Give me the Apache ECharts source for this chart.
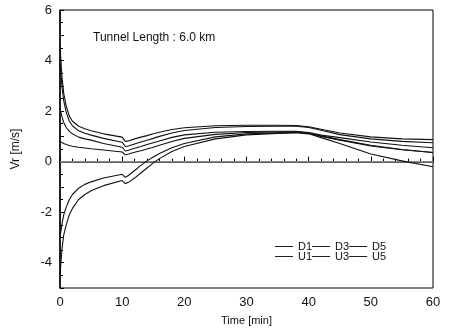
<!DOCTYPE html>
<html>
<head>
<meta charset="utf-8">
<script src="https://cdn.jsdelivr.net/npm/echarts@6/dist/echarts.min.js"></script>
<style>
  html, body { margin: 0; padding: 0; background: #fff; }
  #chart { width: 449px; height: 334px; }
</style>
</head>
<body>
<div id="chart"></div>
<script>
// time samples [min]
const timeMin = [0, 0.3, 0.6, 1, 1.5, 2, 3, 4, 5, 7, 10, 10.5, 11, 12, 13, 14, 15, 16, 18, 20, 25, 30, 35, 38, 40, 42, 45, 50, 55, 60];

// Vr [m/s]
const vrD1 = [4.6, 3.4, 2.7, 2.2, 1.8, 1.6, 1.4, 1.3, 1.22, 1.1, 0.97, 0.8, 0.82, 0.9, 0.97, 1.03, 1.1, 1.16, 1.27, 1.34, 1.42, 1.44, 1.44, 1.43, 1.38, 1.28, 1.13, 0.98, 0.9, 0.87];
const vrD3 = [3.9, 3.0, 2.4, 1.95, 1.6, 1.42, 1.22, 1.12, 1.05, 0.92, 0.77, 0.6, 0.62, 0.7, 0.78, 0.85, 0.92, 1.0, 1.13, 1.23, 1.35, 1.39, 1.4, 1.4, 1.35, 1.24, 1.07, 0.9, 0.8, 0.75];
const vrD5 = [2.1, 1.8, 1.55, 1.35, 1.2, 1.1, 0.97, 0.9, 0.85, 0.72, 0.57, 0.42, 0.45, 0.53, 0.6, 0.68, 0.75, 0.82, 0.96, 1.06, 1.16, 1.19, 1.2, 1.2, 1.15, 1.05, 0.95, 0.78, 0.65, 0.55];
const vrU5 = [0.8, 0.76, 0.72, 0.68, 0.64, 0.61, 0.57, 0.54, 0.51, 0.46, 0.38, 0.27, 0.3, 0.37, 0.43, 0.5, 0.57, 0.65, 0.8, 0.92, 1.08, 1.15, 1.17, 1.18, 1.13, 1.02, 0.87, 0.65, 0.48, 0.36];
const vrU3 = [-3.0, -2.5, -2.1, -1.8, -1.5, -1.3, -1.05, -0.9, -0.8, -0.65, -0.5, -0.62, -0.55, -0.35, -0.15, 0.03, 0.18, 0.32, 0.55, 0.72, 0.98, 1.1, 1.14, 1.16, 1.12, 1.0, 0.85, 0.62, 0.47, 0.36];
const vrU1 = [-4.5, -3.5, -2.9, -2.5, -2.1, -1.85, -1.5, -1.3, -1.15, -0.95, -0.75, -0.87, -0.82, -0.65, -0.45, -0.25, -0.05, 0.12, 0.4, 0.6, 0.9, 1.06, 1.12, 1.14, 1.1, 0.95, 0.72, 0.3, 0.03, -0.2];

const zeroLine = [[0, 0], [60, 0]];
const legendTop = ['D1', 'D3', 'D5'];
const legendBottom = ['U1', 'U3', 'U5'];

const FONT = 'Liberation Sans, Arial, sans-serif';

function pairs(values) {
    return timeMin.map((t, i) => [t, values[i]]);
}

function curve(name, values) {
    return {
        name: name,
        type: 'line',
        data: pairs(values),
        symbol: 'none',
        smooth: false,
        lineStyle: { color: '#111', width: 1.1 },
        itemStyle: { color: '#111' },
        z: 3
    };
}

function legendRow(names, top) {
    return {
        data: names, left: 275, top: top, orient: 'horizontal', padding: 0,
        icon: 'rect', itemWidth: 18, itemHeight: 1, itemGap: 0,
        itemStyle: { color: '#222' },
        textStyle: { fontFamily: FONT, fontSize: 11, color: '#111' }
    };
}

const chart = echarts.init(document.getElementById('chart'));

chart.setOption({
    animation: false,
    grid: {
        left: 60, right: 16, top: 10, bottom: 46,
        show: true, borderColor: '#000', borderWidth: 1
    },
    title: {
        text: 'Tunnel Length : 6.0 km',
        left: 88, top: 27,
        textStyle: { fontFamily: FONT, fontSize: 12, fontWeight: 'normal', color: '#111' }
    },
    legend: [legendRow(legendTop, 241), legendRow(legendBottom, 251)],
    xAxis: {
        type: 'value', min: 0, max: 60, interval: 10,
        name: 'Time [min]', nameLocation: 'middle', nameGap: 27,
        nameTextStyle: { fontFamily: FONT, fontSize: 11, color: '#111' },
        axisLine: { lineStyle: { color: '#000', width: 1.5 } },
        axisTick: { inside: true, length: 5, lineStyle: { color: '#000' } },
        minorTick: { show: true, splitNumber: 5, length: 3, lineStyle: { color: '#000' } },
        axisLabel: { fontFamily: FONT, fontSize: 13, color: '#111', margin: 8 },
        splitLine: { show: false }
    },
    yAxis: {
        type: 'value', min: -5, max: 6, interval: 1,
        name: 'Vr [m/s]', nameLocation: 'middle', nameGap: 38,
        nameTextStyle: { fontFamily: FONT, fontSize: 12, color: '#111' },
        axisLine: { lineStyle: { color: '#000', width: 1.5 } },
        axisTick: { inside: true, length: 4, lineStyle: { color: '#000' } },
        minorTick: { show: true, splitNumber: 2, length: 3, lineStyle: { color: '#000' } },
        axisLabel: {
            fontFamily: FONT, fontSize: 13, color: '#111', margin: 8,
            formatter: v => (v % 2 === 0 ? String(v) : '')
        },
        splitLine: { show: false }
    },
    series: [
        {
            name: 'zero', type: 'line', data: zeroLine, symbol: 'none',
            lineStyle: { color: '#888', width: 1.5 }, z: 2, silent: true
        },
        curve('D1', vrD1),
        curve('D3', vrD3),
        curve('D5', vrD5),
        curve('U1', vrU1),
        curve('U3', vrU3),
        curve('U5', vrU5)
    ]
});
</script>
</body>
</html>
